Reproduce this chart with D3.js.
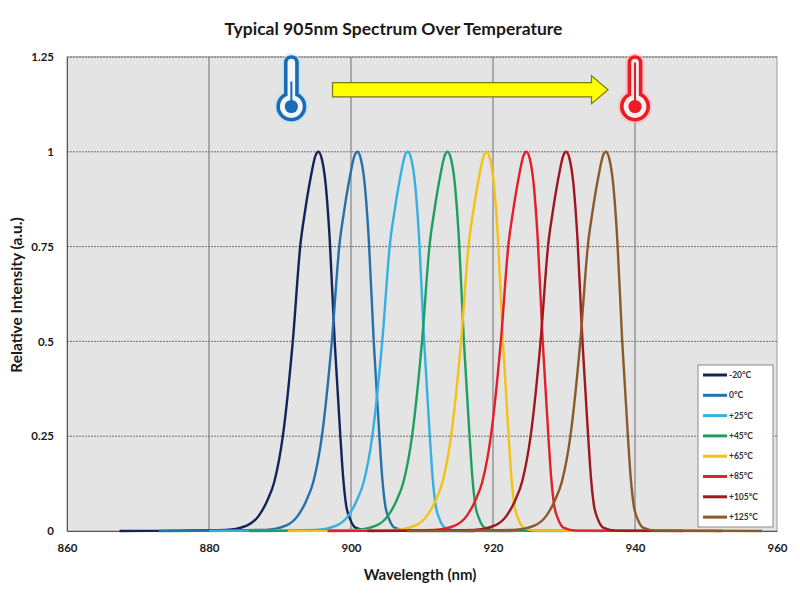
<!DOCTYPE html>
<html>
<head>
<meta charset="utf-8">
<title>Typical 905nm Spectrum Over Temperature</title>
<style>
  body { margin: 0; background: #fff; }
  text { font-family: Lato, "Open Sans", sans-serif; }
</style>
</head>
<body>
<script src="https://d3js.org/d3.v7.min.js"></script>
<script>
// series labels and colours
var temps = ["-20°C", "0°C", "+25°C", "+45°C", "+65°C", "+85°C", "+105°C", "+125°C"];
var colors = ["#14245a", "#2670ab", "#35b0e2", "#1f9e62", "#f3c214", "#e3202a", "#9e1820", "#8a5a2a"];

var levels = [0, 0.003, 0.015, 0.04, 0.08, 0.13, 0.25, 0.5, 0.76, 0.84, 0.93, 0.99, 1,
              0.98, 0.92, 0.77, 0.5, 0.25, 0.14, 0.07, 0.03, 0.008, 0.001, 0];

// wavelength (nm) of each curve at those levels
var wlM20 = [867.4, 882.4, 885.4, 887.0, 888.2, 889.2, 890.4, 891.8, 892.9, 893.5, 894.3, 895.0, 895.4,
             895.9, 896.4, 897.0, 897.7, 898.5, 898.9, 899.3, 899.9, 900.7, 902.4, 917.4];
var wl0   = [872.9, 887.9, 890.9, 892.5, 893.7, 894.7, 895.9, 897.3, 898.4, 899.0, 899.8, 900.5, 900.9,
             901.4, 901.9, 902.5, 903.2, 904.0, 904.4, 904.8, 905.4, 906.2, 907.9, 922.9];
var wl25  = [880.0, 895.0, 898.0, 899.6, 900.8, 901.8, 903.0, 904.4, 905.5, 906.1, 906.9, 907.6, 908.0,
             908.5, 909.0, 909.6, 910.3, 911.1, 911.5, 911.9, 912.5, 913.3, 915.0, 930.0];
var wl45  = [885.6, 900.6, 903.6, 905.2, 906.4, 907.4, 908.6, 910.0, 911.1, 911.7, 912.5, 913.2, 913.6,
             914.1, 914.6, 915.2, 915.9, 916.7, 917.1, 917.5, 918.1, 918.9, 920.6, 935.6];
var wl65  = [891.1, 906.1, 909.1, 910.7, 911.9, 912.9, 914.1, 915.5, 916.6, 917.2, 918.0, 918.7, 919.1,
             919.6, 920.1, 920.7, 921.4, 922.2, 922.6, 923.0, 923.6, 924.4, 926.1, 941.1];
var wl85  = [896.7, 911.7, 914.7, 916.3, 917.5, 918.5, 919.7, 921.1, 922.2, 922.8, 923.6, 924.3, 924.7,
             925.2, 925.7, 926.3, 927.0, 927.8, 928.2, 928.6, 929.2, 930.0, 931.7, 946.7];
var wl105 = [902.3, 917.3, 920.3, 921.9, 923.1, 924.1, 925.3, 926.7, 927.8, 928.4, 929.2, 929.9, 930.3,
             930.8, 931.3, 931.9, 932.6, 933.4, 933.8, 934.2, 934.8, 935.6, 937.3, 952.3];
var wl125 = [907.9, 922.9, 925.9, 927.5, 928.7, 929.7, 930.9, 932.3, 933.4, 934.0, 934.8, 935.5, 935.9,
             936.4, 936.9, 937.5, 938.2, 939.0, 939.4, 939.8, 940.4, 941.2, 942.9, 957.9];
var wavelengths = [wlM20, wl0, wl25, wl45, wl65, wl85, wl105, wl125];

var xTicks = [860, 880, 900, 920, 940, 960];
var yTicks = [0, 0.25, 0.5, 0.75, 1, 1.25];

var width = 800, height = 600;
var plotL = 67, plotR = 777, plotT = 57, plotB = 531;

var svg = d3.select("body").append("svg")
    .attr("width", width)
    .attr("height", height);

var x = d3.scaleLinear().domain([860, 960]).range([plotL, plotR]);
var y = d3.scaleLinear().domain([0, 1.25]).range([plotB, plotT]);

// plot area
svg.append("rect")
    .attr("x", plotL).attr("y", plotT)
    .attr("width", plotR - plotL).attr("height", plotB - plotT)
    .attr("fill", "#e4e4e4")
    .attr("stroke", "#9a9a9a");

// grid
svg.append("g")
    .selectAll("line")
    .data(xTicks.slice(1, -1))
    .enter().append("line")
    .attr("x1", function(d) { return x(d); })
    .attr("x2", function(d) { return x(d); })
    .attr("y1", plotT).attr("y2", plotB)
    .attr("stroke", "#6e6e6e").attr("stroke-width", 1);

svg.append("g")
    .selectAll("line")
    .data(yTicks.slice(1))
    .enter().append("line")
    .attr("x1", plotL).attr("x2", plotR)
    .attr("y1", function(d) { return y(d); })
    .attr("y2", function(d) { return y(d); })
    .attr("stroke", "#6e6e6e").attr("stroke-width", 1)
    .attr("stroke-dasharray", "2,1");

// axes
var xAxis = d3.axisBottom(x).tickValues(xTicks).tickSize(0).tickPadding(13)
    .tickFormat(function(d) { return d; });
var yAxis = d3.axisLeft(y).tickValues(yTicks).tickSize(0).tickPadding(13)
    .tickFormat(function(d) { return d; });

var gx = svg.append("g").attr("transform", "translate(0," + plotB + ")").call(xAxis);
var gy = svg.append("g").attr("transform", "translate(" + plotL + ",0)").call(yAxis);
[gx, gy].forEach(function(g) {
    g.select(".domain").attr("stroke", "#555");
    g.selectAll("text")
        .attr("font-family", "Lato, sans-serif")
        .attr("font-size", 11.5)
        .attr("font-weight", "bold")
        .attr("fill", "#1a1a1a");
});

// spectra
var line = d3.line()
    .x(function(d) { return x(d[0]); })
    .y(function(d) { return y(d[1]); })
    .curve(d3.curveMonotoneX);

svg.append("g")
    .selectAll("path")
    .data(wavelengths)
    .enter().append("path")
    .attr("d", function(wl) { return line(d3.zip(wl, levels)); })
    .attr("fill", "none")
    .attr("stroke", function(d, i) { return colors[i]; })
    .attr("stroke-width", 2.4)
    .attr("stroke-linejoin", "round");

// temperature arrow
var ax0 = x(897.4), ax1 = x(936.2), ay = y(1.1636);
svg.append("path")
    .attr("d", "M" + ax0 + "," + (ay - 7.2) +
               "L" + (ax1 - 16.5) + "," + (ay - 7.2) +
               "L" + (ax1 - 16.5) + "," + (ay - 14) +
               "L" + ax1 + "," + ay +
               "L" + (ax1 - 16.5) + "," + (ay + 14) +
               "L" + (ax1 - 16.5) + "," + (ay + 7.2) +
               "L" + ax0 + "," + (ay + 7.2) + "Z")
    .attr("fill", "#ffff00")
    .attr("stroke", "#7a7a10")
    .attr("stroke-width", 1.2);

// thermometers
function thermometer(cx, cy, col, glow, fillIn, stemTop) {
    var hw = 5.6, R = 13.2, topY = cy - 49.5;
    var j = cy - Math.sqrt(R * R - hw * hw);
    var d = "M" + (cx - hw) + "," + j +
            "L" + (cx - hw) + "," + (topY + hw) +
            "A" + hw + "," + hw + " 0 0 1 " + (cx + hw) + "," + (topY + hw) +
            "L" + (cx + hw) + "," + j +
            "A" + R + "," + R + " 0 1 1 " + (cx - hw) + "," + j + "Z";
    var g = svg.append("g");
    if (glow) {
        g.append("path").attr("d", d).attr("fill", "none")
            .attr("stroke", glow).attr("stroke-width", 8).attr("opacity", 0.55);
    }
    g.append("path").attr("d", d)
        .attr("fill", fillIn)
        .attr("stroke", col).attr("stroke-width", 3.6);
    g.append("line")
        .attr("x1", cx).attr("x2", cx)
        .attr("y1", cy - stemTop).attr("y2", cy)
        .attr("stroke", col).attr("stroke-width", 2);
    g.append("circle")
        .attr("cx", cx).attr("cy", cy).attr("r", 6.6)
        .attr("fill", col);
}
thermometer(x(891.6), y(1.1195), "#1a6db5", "#bfe0f6", "#f2f7fb", 25);
thermometer(x(940.0), y(1.1195), "#ec1c24", "#ffb0b4", "#fbeeee", 44);

// legend
var lgX = 698, lgY = 365, lgW = 75, lgH = 162, lgStep = 20.3;
var legend = svg.append("g");
legend.append("rect")
    .attr("x", lgX).attr("y", lgY)
    .attr("width", lgW).attr("height", lgH)
    .attr("fill", "#fff").attr("stroke", "#8a8a8a");
var items = legend.selectAll("g.item")
    .data(temps)
    .enter().append("g")
    .attr("transform", function(d, i) {
        return "translate(" + lgX + "," + (lgY + 10 + i * lgStep) + ")";
    });
items.append("line")
    .attr("x1", 5).attr("x2", 29)
    .attr("stroke", function(d, i) { return colors[i]; })
    .attr("stroke-width", 3);
items.append("text")
    .attr("x", 31).attr("dy", "0.35em")
    .attr("font-size", 8.5)
    .attr("font-weight", "bold")
    .attr("fill", "#333")
    .text(function(d) { return d; });

// titles
svg.append("text")
    .attr("x", 393.5).attr("y", 35)
    .attr("text-anchor", "middle")
    .attr("font-size", 17.5).attr("font-weight", "bold")
    .attr("fill", "#1a1a1a")
    .text("Typical 905nm Spectrum Over Temperature");

svg.append("text")
    .attr("x", 420).attr("y", 580)
    .attr("text-anchor", "middle")
    .attr("font-size", 15).attr("font-weight", "bold")
    .attr("fill", "#1a1a1a")
    .text("Wavelength (nm)");

svg.append("text")
    .attr("transform", "translate(22,295) rotate(-90)")
    .attr("text-anchor", "middle")
    .attr("font-size", 15.5).attr("font-weight", "bold")
    .attr("fill", "#1a1a1a")
    .text("Relative Intensity (a.u.)");
</script>
</body>
</html>
